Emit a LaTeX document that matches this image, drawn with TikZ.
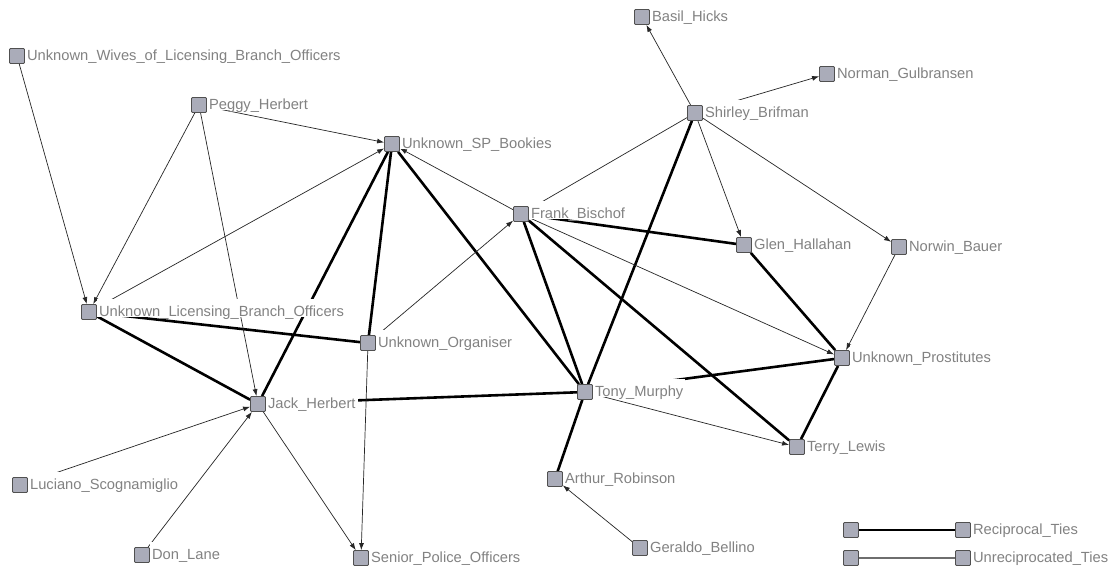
\documentclass[tikz,border=0pt]{standalone}
\usepackage{fontspec}
\setmainfont{Liberation Sans}
\usetikzlibrary{arrows.meta,backgrounds}
\definecolor{nodeGrey}{RGB}{170,172,185}
\definecolor{nodeEdge}{RGB}{80,80,80}
\definecolor{tagGrey}{RGB}{130,130,130}
\definecolor{unrecGrey}{RGB}{110,110,110}
\tikzset{
    vertex/.style={draw=nodeEdge,fill=nodeGrey,minimum size=15pt,inner sep=0pt,rounded corners=1pt,line width=0.8pt},
    tag/.style={fill=white,text=tagGrey,inner xsep=2pt,inner ysep=1pt,text height=16pt,text depth=0pt,yshift=4pt,font=\fontsize{14.7}{16}\selectfont},
    recip/.style={line width=2.6pt,black},
    unrecip/.style={line width=0.7pt,black!85,-{Latex[length=7pt,width=5pt]}},
}
\begin{document}
\begin{tikzpicture}[x=1pt,y=-1pt]

    \useasboundingbox (0,0) rectangle (1120,574);

    \node[vertex,label={[tag]right:Unknown\_Wives\_of\_Licensing\_Branch\_Officers}] (wives) at (17,56) {};
    \node[vertex,label={[tag]right:Peggy\_Herbert}] (peggy) at (199,105) {};
    \node[vertex,label={[tag]right:Unknown\_SP\_Bookies}] (bookies) at (392,144) {};
    \node[vertex,label={[tag]right:Frank\_Bischof}] (frank) at (521,214) {};
    \node[vertex,label={[tag]right:Shirley\_Brifman}] (shirley) at (695,113) {};
    \node[vertex,label={[tag]right:Basil\_Hicks}] (basil) at (642,17) {};
    \node[vertex,label={[tag]right:Norman\_Gulbransen}] (norman) at (827,74) {};
    \node[vertex,label={[tag]right:Glen\_Hallahan}] (glen) at (744,245) {};
    \node[vertex,label={[tag]right:Norwin\_Bauer}] (norwin) at (899,247) {};
    \node[vertex,label={[tag]right:Unknown\_Licensing\_Branch\_Officers}] (officers) at (89,312) {};
    \node[vertex,label={[tag]right:Unknown\_Organiser}] (organiser) at (368,343) {};
    \node[vertex,label={[tag]right:Jack\_Herbert}] (jack) at (258,404) {};
    \node[vertex,label={[tag]right:Tony\_Murphy}] (tony) at (585,392) {};
    \node[vertex,label={[tag]right:Unknown\_Prostitutes}] (prostitutes) at (842,358) {};
    \node[vertex,label={[tag]right:Terry\_Lewis}] (terry) at (797,447) {};
    \node[vertex,label={[tag]right:Arthur\_Robinson}] (arthur) at (555,479) {};
    \node[vertex,label={[tag]right:Luciano\_Scognamiglio}] (luciano) at (20,485) {};
    \node[vertex,label={[tag]right:Don\_Lane}] (donlane) at (142,555) {};
    \node[vertex,label={[tag]right:Senior\_Police\_Officers}] (senior) at (361,558) {};
    \node[vertex,label={[tag]right:Geraldo\_Bellino}] (geraldo) at (640,548) {};

    % legend
    \node[vertex] (recA) at (851,530) {};
    \node[vertex,label={[tag]right:Reciprocal\_Ties}] (recB) at (963,530) {};
    \node[vertex] (unrA) at (851,558) {};
    \node[vertex,label={[tag]right:Unreciprocated\_Ties}] (unrB) at (963,558) {};

    \begin{scope}[on background layer]
        \fill[white] (0,0) rectangle (1120,574);
        % reciprocal ties
        \draw[recip] (officers) -- (jack);
        \draw[recip] (officers) -- (organiser);
        \draw[recip] (jack) -- (bookies);
        \draw[recip] (organiser) -- (bookies);
        \draw[recip] (tony) -- (bookies);
        \draw[recip] (jack) -- (tony);
        \draw[recip] (frank) -- (tony);
        \draw[recip] (frank) -- (terry);
        \draw[recip] (frank) -- (glen);
        \draw[recip] (shirley) -- (tony);
        \draw[recip] (glen) -- (prostitutes);
        \draw[recip] (tony) -- (prostitutes);
        \draw[recip] (terry) -- (prostitutes);
        \draw[recip] (tony) -- (arthur);
        % unreciprocated ties
        \draw[unrecip] (wives) -- (officers);
        \draw[unrecip] (peggy) -- (officers);
        \draw[unrecip] (peggy) -- (jack);
        \draw[unrecip] (peggy) -- (bookies);
        \draw[unrecip] (officers) -- (bookies);
        \draw[unrecip] (frank) -- (bookies);
        \draw[unrecip] (organiser) -- (frank);
        \draw[unrecip] (organiser) -- (senior);
        \draw[unrecip] (jack) -- (senior);
        \draw[unrecip] (luciano) -- (jack);
        \draw[unrecip] (donlane) -- (jack);
        \draw[unrecip] (shirley) -- (basil);
        \draw[unrecip] (shirley) -- (norman);
        \draw[unrecip] (shirley) -- (frank);
        \draw[unrecip] (shirley) -- (glen);
        \draw[unrecip] (shirley) -- (norwin);
        \draw[unrecip] (norwin) -- (prostitutes);
        \draw[unrecip] (frank) -- (prostitutes);
        \draw[unrecip] (tony) -- (terry);
        \draw[unrecip] (geraldo) -- (arthur);
        % legend ties
        \draw[recip] (recA) -- (recB);
        \draw[line width=1.2pt,unrecGrey] (unrA) -- (unrB);
    \end{scope}

\end{tikzpicture}
\end{document}
